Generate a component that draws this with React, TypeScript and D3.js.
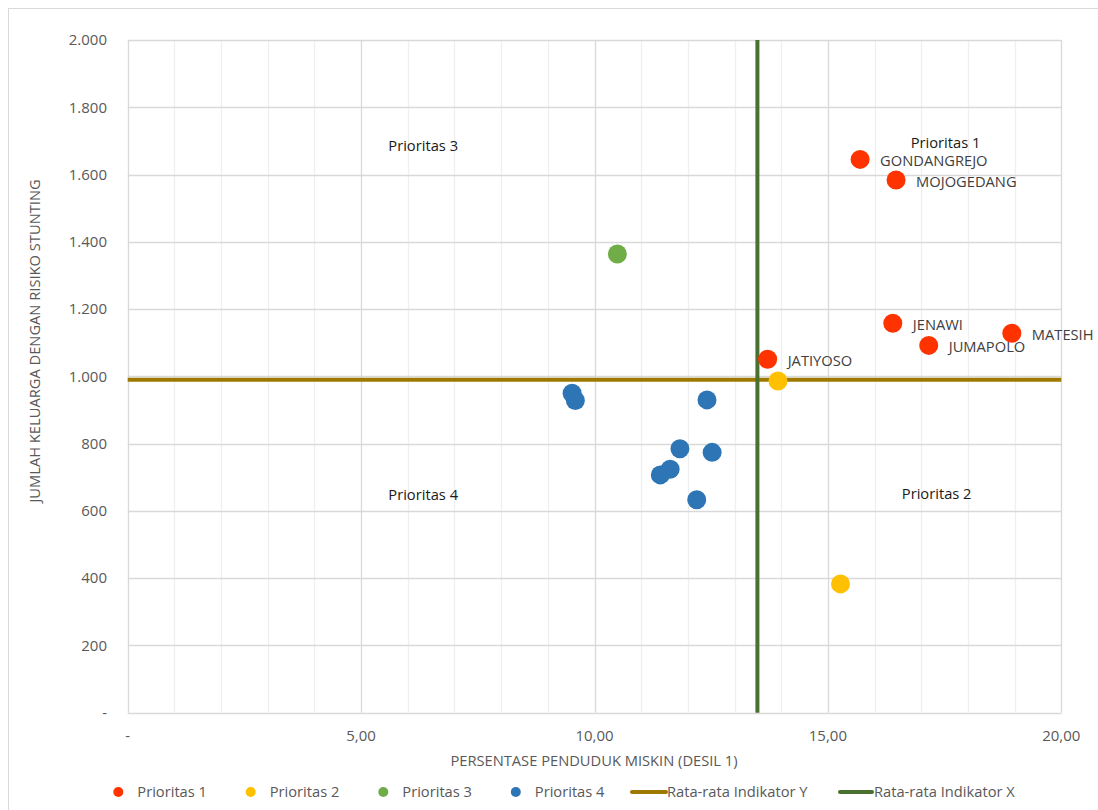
import * as d3 from 'd3'

// kecamatan data
const p1Names = ['GONDANGREJO', 'MOJOGEDANG', 'JENAWI', 'JUMAPOLO', 'MATESIH', 'JATIYOSO']
const p1X = [15.69, 16.46, 16.39, 17.16, 18.94, 13.71]
const p1Y = [1645, 1584, 1158, 1092, 1128, 1051]
const p2X = [13.93, 15.27]
const p2Y = [986, 383]
const p3X = [10.49]
const p3Y = [1364]
const p4X = [9.52, 9.59, 12.41, 11.83, 12.52, 11.62, 11.41, 12.19]
const p4Y = [950, 928, 930, 785, 774, 724, 707, 633]

const avgX = 13.49
const avgY = 990

const xTicks = [0, 5, 10, 15, 20]
const yTicks = [0, 200, 400, 600, 800, 1000, 1200, 1400, 1600, 1800, 2000]

const quadLabels = ['Prioritas 3', 'Prioritas 1', 'Prioritas 4', 'Prioritas 2']
const quadX = [6.33, 17.52, 6.33, 17.33]
const quadY = [1685, 1694, 648, 651]

const seriesNames = ['Prioritas 1', 'Prioritas 2', 'Prioritas 3', 'Prioritas 4']
const seriesColors = ['#FF3300', '#FFC000', '#70AD47', '#2E75B6']
const lineColorY = '#9E7800'
const lineColorX = '#4A7030'

const font = "'Open Sans', sans-serif"

const fmtX = (v: number) => (v === 0 ? '-' : v.toFixed(2).replace('.', ','))
const fmtY = (v: number) => (v === 0 ? '-' : d3.format(',')(v).replace(/,/g, '.'))

export default function App() {
  const x = d3.scaleLinear().domain([0, 20]).range([127.7, 1061.3])
  const y = d3.scaleLinear().domain([0, 2000]).range([712.7, 40])

  const series = [
    { xs: p1X, ys: p1Y },
    { xs: p2X, ys: p2Y },
    { xs: p3X, ys: p3Y },
    { xs: p4X, ys: p4Y },
  ]

  const minor = d3.range(0, 21)
  const crisp = (v: number) => Math.round(v) + 0.5

  const legendDots = [118.3, 250.7, 383.3, 515.8]
  const legendY = 792

  return (
    <svg width={1098} height={810} style={{ position: 'absolute', left: 0, top: 0, background: '#fff' }} fontFamily={font}>
      <rect x={8.5} y={8.5} width={1100} height={820} fill="#fff" stroke="#d9d9d9" />

      {/* grid */}
      {minor.map((d) => (
        <line key={'v' + d} x1={crisp(x(d))} x2={crisp(x(d))} y1={y(0)} y2={y(2000)}
          stroke={d % 5 === 0 ? '#d9d9d9' : '#efefef'} strokeWidth={1.3} />
      ))}
      {yTicks.map((d) => (
        <line key={'h' + d} x1={x(0)} x2={x(20)} y1={crisp(y(d))} y2={crisp(y(d))} stroke="#d9d9d9" strokeWidth={1.3} />
      ))}

      {/* tick labels */}
      {yTicks.map((d) => (
        <text key={'yt' + d} x={107} y={y(d)} dy="0.35em" textAnchor="end" fontSize={15} fill="#595959">{fmtY(d)}</text>
      ))}
      {xTicks.map((d) => (
        <text key={'xt' + d} x={x(d)} y={736} dy="0.35em" textAnchor="middle" fontSize={15} fill="#595959">{fmtX(d)}</text>
      ))}

      {/* axis titles */}
      <text x={594} y={761} dy="0.35em" textAnchor="middle" fontSize={14.7} fill="#595959">PERSENTASE PENDUDUK MISKIN (DESIL 1)</text>
      <text transform="translate(35,341) rotate(-90)" dy="0.35em" textAnchor="middle" fontSize={14.7} fill="#595959">JUMLAH KELUARGA DENGAN RISIKO STUNTING</text>

      {/* average lines */}
      <line x1={x(0)} x2={x(20)} y1={y(avgY)} y2={y(avgY)} stroke={lineColorY} strokeWidth={4} />
      <line x1={x(avgX)} x2={x(avgX)} y1={y(0)} y2={y(2000)} stroke={lineColorX} strokeWidth={4} />

      {/* quadrant labels */}
      {quadLabels.map((t, i) => (
        <text key={t} x={x(quadX[i])} y={y(quadY[i])} dy="0.35em" textAnchor="middle" fontSize={14.7} fill="#1a1a1a">{t}</text>
      ))}

      {/* points */}
      {series.map((s, si) =>
        s.xs.map((xv, i) => (
          <circle key={si + '-' + i} cx={x(xv)} cy={y(s.ys[i])} r={9.5} fill={seriesColors[si]} />
        ))
      )}
      {p1Names.map((n, i) => (
        <text key={n} x={x(p1X[i]) + 20} y={y(p1Y[i]) + 1.5} dy="0.35em" fontSize={14.7} fill="#404040">{n}</text>
      ))}

      {/* legend */}
      {seriesNames.map((n, i) => (
        <g key={n}>
          <circle cx={legendDots[i]} cy={legendY} r={5} fill={seriesColors[i]} />
          <text x={legendDots[i] + 19} y={legendY} dy="0.35em" fontSize={14.7} fill="#595959">{n}</text>
        </g>
      ))}
      <line x1={632} x2={666} y1={legendY} y2={legendY} stroke={lineColorY} strokeWidth={4} strokeLinecap="round" />
      <text x={667} y={legendY} dy="0.35em" fontSize={14.7} fill="#595959">Rata-rata Indikator Y</text>
      <line x1={840} x2={872} y1={legendY} y2={legendY} stroke={lineColorX} strokeWidth={4} strokeLinecap="round" />
      <text x={874} y={legendY} dy="0.35em" fontSize={14.7} fill="#595959">Rata-rata Indikator X</text>
    </svg>
  )
}
